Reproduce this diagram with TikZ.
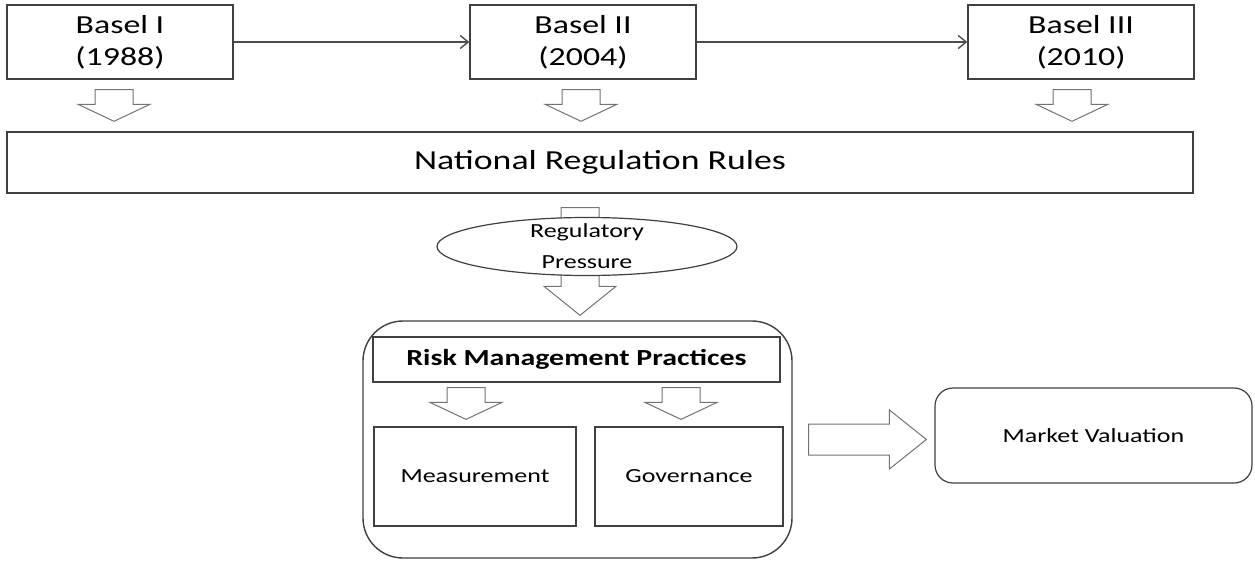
\documentclass[tikz,border=0pt]{standalone}
\usepackage{fontspec}
\setmainfont{Carlito}[FakeStretch=1.3]
\usepackage{tikz}
\usetikzlibrary{arrows.meta,positioning,calc,shapes.geometric}
\tikzset{
  box/.style={draw=black!75, line width=1.4pt, fill=white, align=center, inner sep=0pt},
  basel/.style={box, minimum width=226pt, minimum height=74pt, font=\fontsize{26}{32}\selectfont},
  part/.style={box, line width=1.2pt, font=\fontsize{20}{24}\selectfont},
  line/.style={draw=black!70, line width=1.4pt, -{Straight Barb[length=8pt,width=13pt]}},
  fat/.style={draw=black!55, line width=1pt, fill=white, line join=miter}
}
% block arrows (top point, tip point, head length)
\newcommand{\fatdown}[3]{%
  \draw[fat] let \p1=#1, \p2=#2 in
    (\x1-19pt,\y1) -- (\x1+19pt,\y1) -- (\x1+19pt,\y2+#3) -- (\x1+36pt,\y2+#3)
    -- (\x1,\y2) -- (\x1-36pt,\y2+#3) -- (\x1-19pt,\y2+#3) -- cycle;}
\newcommand{\fatright}[3]{%
  \draw[fat] let \p1=#1, \p2=#2 in
    (\x1,\y1+15.5pt) -- (\x2-#3,\y1+15.5pt) -- (\x2-#3,\y1+29.5pt) -- (\x2,\y1)
    -- (\x2-#3,\y1-29.5pt) -- (\x2-#3,\y1-15.5pt) -- (\x1,\y1-15.5pt) -- cycle;}

\begin{document}
\begin{tikzpicture}[x=1pt, y=-1pt]
  \useasboundingbox (0,0) rectangle (1255,561);

  \node[basel] (basel1) at (120,42) {Basel I\\(1988)};
  \node[basel] (basel2) at (583,42) {Basel II\\(2004)};
  \node[basel] (basel3) at (1081,42) {Basel III\\(2010)};
  \node[box, minimum width=1186pt, minimum height=61pt, font=\fontsize{27.5}{32}\selectfont] (national) at (600,162.5) {National Regulation Rules};

  \draw[line] (basel1) -- (basel2);
  \draw[line] (basel2) -- (basel3);

  % bank side
  \node[box, rounded corners=40pt, minimum width=429pt, minimum height=237pt] (outer) at (577.5,439.5) {};
  \node[part, minimum width=407pt, minimum height=45pt, font=\fontsize{23}{28}\selectfont\bfseries] (rmp) at (576.5,359.5) {Risk Management Practices};
  \node[part, minimum width=202pt, minimum height=99pt] (measure) at (475,476.5) {Measurement};
  \node[part, minimum width=188pt, minimum height=99pt] (govern) at (689,476.5) {Governance};
  \node[part, rounded corners=18pt, minimum width=317pt, minimum height=95pt] (market) at (1093.5,435.5) {Market Valuation};

  \fatdown{($(basel1.south)+(-6,10)$)}{($(national.north)+(0,-10)$)}{17pt}
  \fatdown{($(basel2.south)+(-2,10)$)}{($(national.north)+(0,-10)$)}{17pt}
  \fatdown{($(basel3.south)+(-9,10)$)}{($(national.north)+(0,-10)$)}{17pt}
  \fatdown{($(national.south)+(-20,14)$)}{($(outer.north)+(0,-5)$)}{29pt}
  \fatdown{($(measure.north |- rmp.south)+(-9,5)$)}{($(measure.north)+(0,-7)$)}{17pt}
  \fatdown{($(govern.north |- rmp.south)+(-8,5)$)}{($(govern.north)+(0,-7)$)}{17pt}
  \fatright{($(outer.east)+(16,0)$)}{($(market.west)+(-8,0)$)}{37pt}

  \node[ellipse, draw=black!75, line width=1.2pt, fill=white, minimum width=300pt, minimum height=58pt, inner sep=0pt,
    label={[font=\fontsize{20}{31}\selectfont, align=center]center:Regulatory\\Pressure}] (pressure) at (587,246.5) {};
\end{tikzpicture}
\end{document}
